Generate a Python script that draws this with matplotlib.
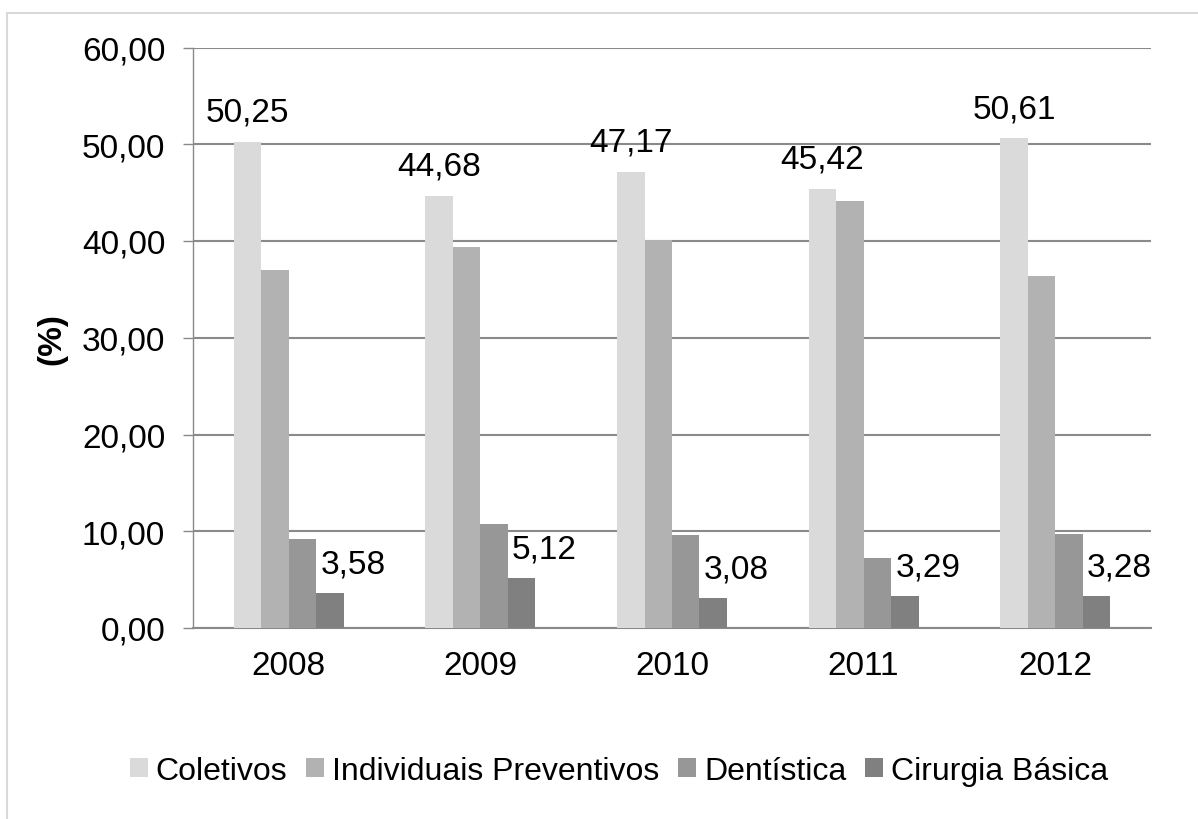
import matplotlib
matplotlib.use('Agg')
import matplotlib.pyplot as plt
from matplotlib.lines import Line2D
from matplotlib.ticker import FuncFormatter
import numpy as np

plt.rcParams['font.family'] = ['Liberation Sans', 'DejaVu Sans']

# data
years = ['2008', '2009', '2010', '2011', '2012']
coletivos = [50.25, 44.68, 47.17, 45.42, 50.61]
individuais = [37.00, 39.40, 40.10, 44.10, 36.40]
dentistica = [9.17, 10.80, 9.65, 7.20, 9.70]
cirurgia = [3.58, 5.12, 3.08, 3.29, 3.28]

series = [('Coletivos', coletivos, '#dadada'),
          ('Individuais Preventivos', individuais, '#b2b2b2'),
          ('Dentística', dentistica, '#979797'),
          ('Cirurgia Básica', cirurgia, '#808080')]

W, H = 1198, 820
fig = plt.figure(figsize=(W / 100, H / 100), dpi=100)
ax = fig.add_axes([193 / W, 1 - 629 / H, (1151 - 193) / W, (629 - 48.5) / H])

fs = 24
x = np.arange(len(years))
bw = 0.1435
grid_col = '#8a8a8a'

def fmt(v):
    return f'{v:.2f}'.replace('.', ',')

bars = []
for i, (name, vals, col) in enumerate(series):
    b = ax.bar(x + (i - 1.5) * bw, vals, bw, color=col, label=name, zorder=3)
    bars.append(b)

# labels: Coletivos centred above, Cirurgia above starting at bar's left
for rect, v in zip(bars[0], coletivos):
    ax.annotate(fmt(v), (rect.get_x() + rect.get_width() / 2, v),
                xytext=(0, 15), textcoords='offset points',
                ha='center', va='baseline', fontsize=fs)
for rect, v in zip(bars[3], cirurgia):
    ax.annotate(fmt(v), (rect.get_x(), v),
                xytext=(3, 15), textcoords='offset points',
                ha='left', va='baseline', fontsize=fs)

ax.set_xlim(-0.5, len(years) - 0.5)
ax.set_ylim(0, 60)
ax.set_yticks(np.arange(0, 61, 10))
ax.yaxis.set_major_formatter(FuncFormatter(lambda v, p: fmt(v)))
ax.set_xticks(x)
ax.set_xticklabels(years)

ax.grid(axis='y', color=grid_col, linewidth=1.5, zorder=0)
ax.tick_params(axis='y', length=7, width=1, color=grid_col, pad=13, labelsize=fs)
ax.tick_params(axis='x', length=0, pad=16, labelsize=fs)

for s in ['top', 'right']:
    ax.spines[s].set_visible(False)
ax.spines['left'].set_color(grid_col)
ax.spines['left'].set_linewidth(1)
ax.spines['bottom'].set_color(grid_col)
ax.spines['bottom'].set_linewidth(1.5)

ax.set_ylabel('(%)', fontsize=fs, fontweight='bold', va='center')
ax.yaxis.set_label_coords((52 - 193) / (1151 - 193), 0.5)

fig.legend(loc='center', bbox_to_anchor=(619 / W, 1 - 772 / H), ncol=4,
           frameon=False, fontsize=23, handlelength=0.55, handleheight=0.55,
           handletextpad=0.25, columnspacing=0.6, borderaxespad=0)

# outer chart border (only top and left visible in crop)
fig.add_artist(Line2D([7 / W, 7 / W], [0, 1 - 14 / H], color='#d9d9d9', lw=1.5))
fig.add_artist(Line2D([7 / W, 1], [1 - 14 / H, 1 - 14 / H], color='#d9d9d9', lw=1.5))

fig.savefig('out.png', dpi=100)
